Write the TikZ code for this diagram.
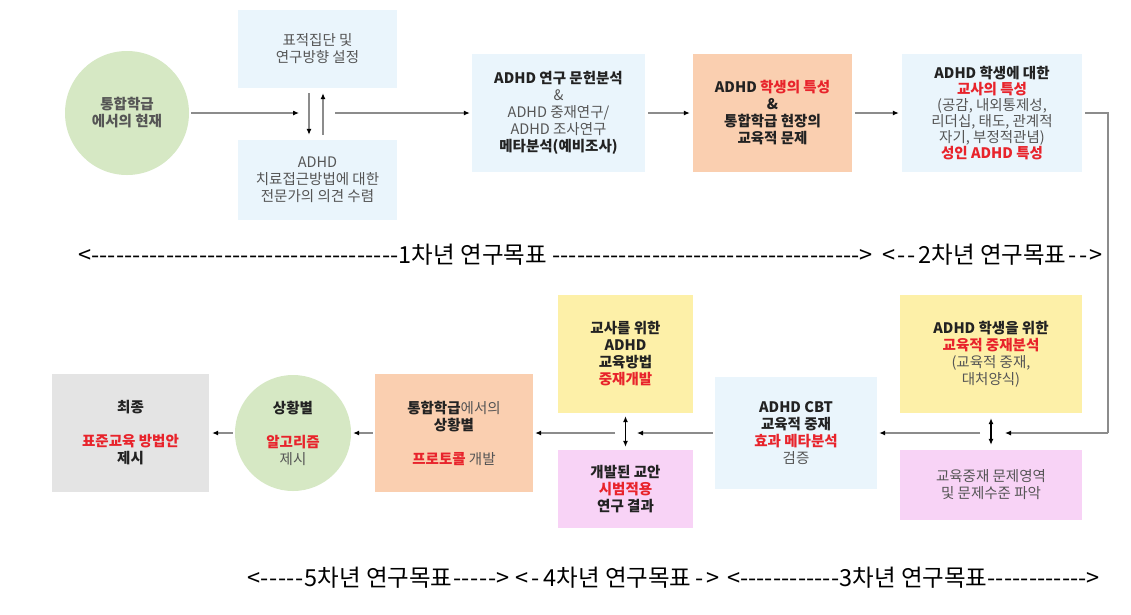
\documentclass[tikz,border=0pt]{standalone}
\usepackage{fontspec}
\setmainfont{Noto Sans CJK KR}
\usetikzlibrary{arrows.meta}
\definecolor{lblue}{HTML}{EAF5FC}
\definecolor{lgreen}{HTML}{D6E8C4}
\definecolor{lorange}{HTML}{FACFB0}
\definecolor{lyellow}{HTML}{FDF0A8}
\definecolor{lpink}{HTML}{F8D3F6}
\definecolor{lgray}{HTML}{E4E4E4}
\definecolor{tred}{HTML}{E8232B}
\definecolor{tgray}{HTML}{555555}
\definecolor{tblack}{HTML}{222222}
\definecolor{lgr}{HTML}{8C8C8C}
\newcommand{\bk}[1]{{\bfseries\color{tblack}#1}}
\newcommand{\rdb}[1]{{\bfseries\color{tred}#1}}
\tikzset{
  box/.style={rectangle, inner sep=2pt, align=center, text=tgray,
    font=\fontsize{14.5}{17}\selectfont},
  circ/.style={circle, inner sep=0pt, align=center, text=tgray, fill=lgreen,
    font=\fontsize{14.5}{17}\selectfont},
  ln/.style={draw=lgr, line width=1.1pt},
  arr/.style={draw=lgr, line width=1.1pt, -{Latex[length=6pt,width=5pt,color=black]}},
  dbl/.style={draw=black, line width=1.1pt, {Latex[length=6pt,width=5pt,color=black]}-{Latex[length=6pt,width=5pt,color=black]}},
  lab/.style={inner sep=0pt, text=black, font=\fontsize{23.5}{26}\selectfont}
}
\begin{document}
\begin{tikzpicture}[x=1pt,y=-1pt]
\useasboundingbox (0,0) rectangle (1131,614);
\fill[white] (0,0) rectangle (1131,614);

% top row
\node[circ, minimum size=124pt] (c1) at (127,113) {\bfseries 통합학급\\ \bfseries 에서의 현재};
\node[box, fill=lblue, minimum width=159pt, minimum height=78pt] (b1) at (317.5,49) {표적집단 및\\연구방향 설정};
\node[box, fill=lblue, minimum width=159pt, minimum height=80pt] (b2) at (317.5,180) {ADHD\\치료접근방법에 대한\\전문가의 의견 수렴};
\node[box, fill=lblue, minimum width=173pt, minimum height=118pt] (b3) at (558.5,113) {\bk{ADHD 연구 문헌분석}\\\&\\ADHD 중재연구/\\ADHD 조사연구\\\bk{메타분석(예비조사)}};
\node[box, fill=lorange, minimum width=159pt, minimum height=118pt] (b4) at (772.5,113) {\bk{ADHD} \rdb{학생의 특성}\\\bk{\&}\\\bk{통합학급 현장의}\\\bk{교육적 문제}};
\node[box, fill=lblue, minimum width=180pt, minimum height=118pt, font=\fontsize{14.5}{16}\selectfont] (b5) at (992,113) {\bk{ADHD 학생에 대한}\\\rdb{교사의 특성}\\(공감, 내외통제성,\\리더십, 태도, 관계적\\자기, 부정적관념)\\\rdb{성인 ADHD 특성}};

\coordinate (m1) at (299,113);
\coordinate (m2) at (335,113);
\draw[arr, shorten <=2pt] (c1.east) -- (m1);
\draw[arr] ([xshift=-8.5pt,yshift=-5pt]b1.south) -- ([xshift=-8.5pt,yshift=5pt]b2.north);
\draw[arr] ([xshift=5.5pt,yshift=5pt]b2.north) -- ([xshift=5.5pt,yshift=-5pt]b1.south);
\draw[arr, shorten >=2pt] (m2) -- (b3.west);
\draw[arr, shorten <=3pt, shorten >=3pt] (b3.east) -- (b4.west);
\draw[arr, shorten <=3pt, shorten >=3pt] (b4.east) -- (b5.west);

% labels row 1
\node[lab] (L1) at (475.5,255) {\hbox to 795pt{<\xleaders\hbox{-}\hfill1차년 연구목표 \xleaders\hbox{-}\hfill>}};
\node[lab] (L2) at (992.5,255) {\hbox to 221pt{<\xleaders\hbox{-}\hfill2차년 연구목표\xleaders\hbox{-}\hfill>}};

% bottom row
\node[box, fill=lyellow, minimum width=182pt, minimum height=118pt] (b6) at (991,354) {\bk{ADHD 학생을 위한}\\\rdb{교육적 중재분석}\\(교육적 중재,\\대처양식)};
\node[box, fill=lpink, minimum width=182pt, minimum height=70pt] (b7) at (991,485) {교육중재 문제영역\\및 문제수준 파악};
\node[box, fill=lblue, minimum width=162pt, minimum height=112pt] (b8) at (796,433) {\bk{ADHD CBT}\\\bk{교육적 중재}\\\rdb{효과 메타분석}\\검증};
\node[box, fill=lyellow, minimum width=135pt, minimum height=118pt] (b9) at (625.5,354) {\bk{교사를 위한}\\\bk{ADHD}\\\bk{교육방법}\\\rdb{중재개발}};
\node[box, fill=lpink, minimum width=135pt, minimum height=78pt] (b10) at (625.5,489) {\bk{개발된 교안}\\\rdb{시범적용}\\\bk{연구 결과}};
\node[box, fill=lorange, minimum width=158pt, minimum height=118pt] (b11) at (454,433) {\bk{통합학급}에서의\\\bk{상황별}\\[17pt]\rdb{프로토콜} 개발};
\node[circ, minimum size=116pt] (c2) at (293,433) {\bk{상황별}\\[17pt]\rdb{알고리즘}\\제시};
\node[box, fill=lgray, minimum width=157pt, minimum height=118pt] (b12) at (130.5,433) {\bk{최종}\\[17pt]\rdb{표준교육 방법안}\\\bk{제시}};

\coordinate (rc) at (1108,433);
\coordinate (r1) at (1005,433);
\coordinate (r2) at (980,433);
\coordinate (l1) at (637,433);
\coordinate (l2) at (615,433);
\draw[ln] ([xshift=3pt]b5.east) -| (rc);
\draw[arr] (rc) -- (r1);
\draw[arr, shorten >=2pt] (r2) -- (b8.east);
\draw[dbl] ([yshift=-5pt]b6.south) -- ([yshift=5pt]b7.north);
\draw[arr, shorten <=2pt] (b8.west) -- (l1);
\draw[dbl] ([yshift=-3pt]b9.south) -- ([yshift=3pt]b10.north);
\draw[arr, shorten >=2pt] (l2) -- (b11.east);
\draw[arr, shorten <=2pt, shorten >=2pt] (b11.west) -- (c2.east);
\draw[arr, shorten <=2pt, shorten >=3pt] (c2.west) -- (b12.east);

% labels row 2
\node[lab] (L3) at (378.5,578) {\hbox to 263pt{<\xleaders\hbox{-}\hfill5차년 연구목표\xleaders\hbox{-}\hfill>}};
\node[lab] (L4) at (617.5,578) {\hbox to 205pt{<\xleaders\hbox{-}\hfill4차년 연구목표\xleaders\hbox{-}\hfill>}};
\node[lab] (L5) at (913.5,578) {\hbox to 373pt{<\xleaders\hbox{-}\hfill3차년 연구목표\xleaders\hbox{-}\hfill>}};
\end{tikzpicture}
\end{document}
